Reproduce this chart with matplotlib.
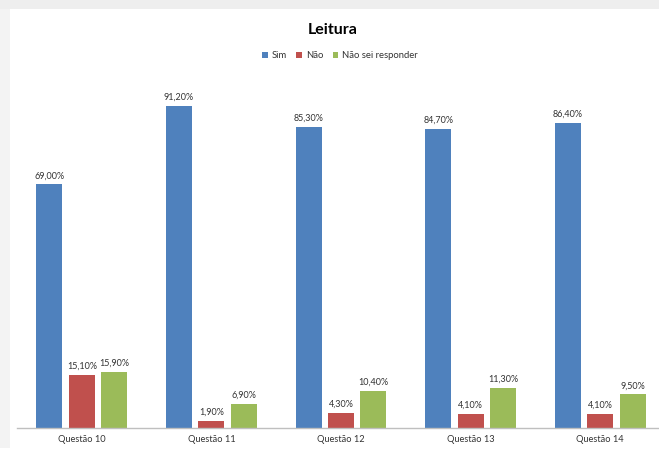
import numpy as np
import matplotlib.pyplot as plt
from matplotlib.patches import Rectangle

plt.rcParams['font.family'] = ['Lato', 'DejaVu Sans']

categories = ['Questão 10', 'Questão 11', 'Questão 12', 'Questão 13', 'Questão 14']
sim = [69.0, 91.2, 85.3, 84.7, 86.4]
nao = [15.1, 1.9, 4.3, 4.1, 4.1]
nao_sei = [15.9, 6.9, 10.4, 11.3, 9.5]
series_names = ['Sim', 'Não', 'Não sei responder']
colors = ['#4F81BD', '#C0504D', '#9BBB59']

W, H = 659, 459
fig = plt.figure(figsize=(W / 100, H / 100), dpi=100, facecolor='white')

# light gray frame on top and left, like the screenshot
fig.patches.append(Rectangle((0, 1 - 9 / H), 1, 9 / H, transform=fig.transFigure,
                             facecolor='#eeeeee', edgecolor='none', zorder=0))
fig.patches.append(Rectangle((0, 11 / H), 10 / W, 1 - 20 / H, transform=fig.transFigure,
                             facecolor='#f3f3f3', edgecolor='none', zorder=0))

ax = fig.add_axes([17 / W, (H - 428) / H, 648 / W, 353 / H])
ax.set_facecolor('none')

x = np.arange(len(categories))
width = 0.2
offsets = [-0.25, 0, 0.25]
for vals, off, col, name in zip([sim, nao, nao_sei], offsets, colors, series_names):
    bars = ax.bar(x + off, vals, width, color=col, label=name, zorder=2)
    for b, v in zip(bars, vals):
        ax.annotate(f'{v:.2f}%'.replace('.', ','), (b.get_x() + b.get_width() / 2, v),
                    xytext=(0, 3), textcoords='offset points', ha='center', va='bottom',
                    fontsize=6.5, color='#333333')

ax.set_xlim(-0.5, 4.5)
ax.set_ylim(0, 100)
ax.set_xticks(x)
ax.set_xticklabels(categories, fontsize=6.7, color='#333333')
ax.tick_params(axis='x', length=0, pad=5)
ax.set_yticks([])
for s in ['top', 'right', 'left']:
    ax.spines[s].set_visible(False)
ax.spines['bottom'].set_color('#bfbfbf')
ax.spines['bottom'].set_linewidth(1)

fig.text(333 / W, 1 - 30 / H, 'Leitura', ha='center', va='center',
         fontsize=11.5, fontweight='bold', color='black')
fig.legend(loc='center', bbox_to_anchor=(340 / W, 1 - 56 / H), ncol=3, frameon=False,
           fontsize=6.8, handlelength=0.6, handleheight=0.6, handletextpad=0.4,
           columnspacing=1.0, labelcolor='#333333')

fig.savefig('out.png', dpi=100)
